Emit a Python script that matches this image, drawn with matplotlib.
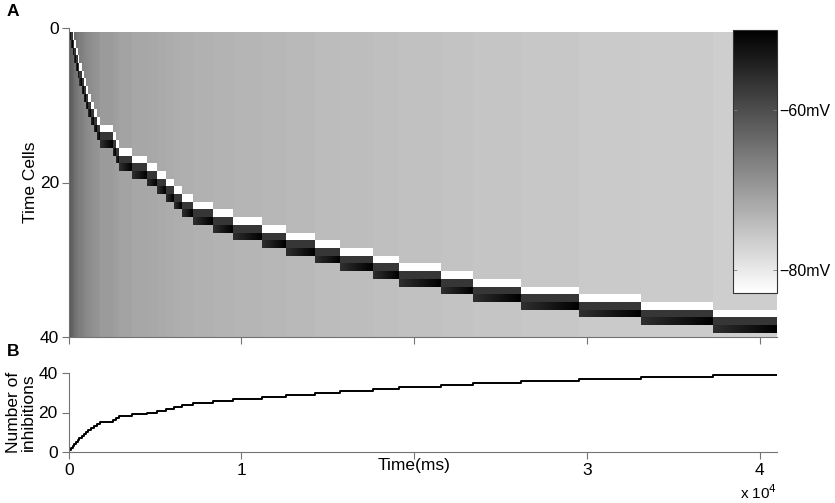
import numpy as np
import matplotlib
matplotlib.use("Agg")
import matplotlib.pyplot as plt
from matplotlib.colors import Normalize
from matplotlib.cm import ScalarMappable

plt.rcParams['font.family'] = ['Liberation Sans', 'DejaVu Sans']

# ---------------- data ----------------
n_cells = 40
t_max_ms = 41000
# onset time (ms) of the active (black) phase for cells 1..39 = inhibition times
onset_ms = [46, 133, 220, 307, 423, 510, 625, 741, 857, 973,
            1118, 1262, 1436, 1610, 1812, 2548, 2721, 2930, 3648, 4517,
            5130, 5634, 6097, 6543, 7215, 8338, 9514, 11175, 12583, 14262,
            15710, 17603, 19143, 21540, 23428, 26190, 29566, 33121, 37267]
# background (resting) potential of the silent cells in each interval (mV)
rest_mV = [-60.9, -61.6, -62.6, -63.5, -64.4, -65.2, -65.7, -66.2, -66.7, -67.2,
           -67.6, -68.0, -68.4, -68.8, -69.2, -69.9, -70.3, -70.6, -71.0, -71.4,
           -71.6, -71.9, -72.1, -72.4, -72.5, -72.8, -73.0, -73.3, -73.5, -73.8,
           -74.1, -74.3, -74.6, -74.8, -75.1, -75.3, -75.6, -75.9, -76.1, -76.4]
inhibited_mV = -85.0
trailing_mV = -57.0
ramp_start_mV = -56.0
spike_mV = -50.0
clim_mV = (-82.8, -50.0)
cbar_ticks = [-60, -80]
cbar_labels = ['\u221260mV', '\u221280mV']
x_ticks_ms = [0, 10000, 20000, 30000, 40000]
x_tick_labels = ['0', '1', '', '3', '4']

# ---------------- build heatmap ----------------
bounds = [0] + onset_ms + [t_max_ms]
nsub = 24
edges = []
vals = []
for j in range(len(bounds) - 1):
    e = np.linspace(bounds[j], bounds[j + 1], nsub + 1)
    edges.extend(e[:-1])
    block = np.full((n_cells, nsub), rest_mV[j])
    r = j
    if j >= 1:
        block[r - 1, :] = np.linspace(ramp_start_mV, spike_mV, nsub)
    if j >= 2:
        block[r - 2, :] = trailing_mV
    if j >= 3:
        block[r - 3, :] = inhibited_mV
    vals.append(block)
edges.append(t_max_ms)
Z = np.hstack(vals)
xedges = np.array(edges)
yedges = np.arange(0.5, n_cells + 1.0, 1.0)

# ---------------- figure ----------------
W, H = 835, 503
fig = plt.figure(figsize=(W / 100, H / 100), dpi=100)

def fx(px):
    return px / W

def fy(py):
    return 1 - py / H

FS = 12.5
axcol = '0.45'
ax_left, ax_right = 68.7, 777.0
axA = fig.add_axes([fx(ax_left), fy(336.7), fx(ax_right - ax_left), (336.7 - 28.3) / H])
norm = Normalize(*clim_mV)
axA.pcolormesh(xedges, yedges, Z, cmap='gray_r', norm=norm, shading='flat', rasterized=True)
axA.set_xlim(0, t_max_ms)
axA.set_ylim(n_cells, 0)
axA.set_yticks([0, 20, 40])
axA.set_xticks(x_ticks_ms)
axA.set_xticklabels([])
for s in ['top', 'right']:
    axA.spines[s].set_visible(False)
for s in ['left', 'bottom']:
    axA.spines[s].set_color(axcol)
    axA.spines[s].set_linewidth(0.8)
axA.tick_params(direction='out', length=5, width=0.8, color=axcol, labelsize=FS, pad=2)
axA.set_ylabel('Time Cells', fontsize=FS, labelpad=1)

# colorbar inset
cax = fig.add_axes([fx(733), fy(292.7), fx(777 - 733), (292.7 - 30) / H])
sm = ScalarMappable(norm=norm, cmap='gray_r')
cb = fig.colorbar(sm, cax=cax, ticks=cbar_ticks)
cb.ax.set_yticklabels(cbar_labels)
cb.outline.set_edgecolor('0.2')
cb.outline.set_linewidth(0.8)
cb.ax.tick_params(direction='in', length=3, width=0.6, color='0.5', left=True, right=True,
                  labelsize=11.5, pad=1.5)

# panel B
axB = fig.add_axes([fx(ax_left), fy(451.7), fx(ax_right - ax_left), (451.7 - 373.3) / H])
t_steps = [0] + onset_ms + [t_max_ms]
counts = list(range(0, len(onset_ms) + 1)) + [len(onset_ms)]
axB.step(t_steps, counts, where='post', color='black', lw=1.4)
axB.set_xlim(0, t_max_ms)
axB.set_ylim(0, 40)
axB.set_yticks([0, 20, 40])
axB.set_xticks(x_ticks_ms)
axB.set_xticklabels(x_tick_labels)
for s in ['top', 'right']:
    axB.spines[s].set_visible(False)
for s in ['left', 'bottom']:
    axB.spines[s].set_color(axcol)
    axB.spines[s].set_linewidth(0.8)
axB.tick_params(direction='out', length=5, width=0.8, color=axcol, labelsize=FS, pad=3)
axB.set_ylabel('Number of\ninhibitions', fontsize=FS, labelpad=2, linespacing=1.0)
axB.set_xlabel('Time(ms)', fontsize=FS)
axB.xaxis.set_label_coords(0.487, -0.085)
axB.xaxis.label.set_va('top')
fig.text(fx(740), fy(493), 'x 10$^4$', fontsize=11, ha='left', va='center')

fig.text(fx(7), fy(11), 'A', fontsize=12.5, fontweight='bold', ha='left', va='center')
fig.text(fx(7), fy(351), 'B', fontsize=12.5, fontweight='bold', ha='left', va='center')

fig.savefig('out.png', dpi=100)
